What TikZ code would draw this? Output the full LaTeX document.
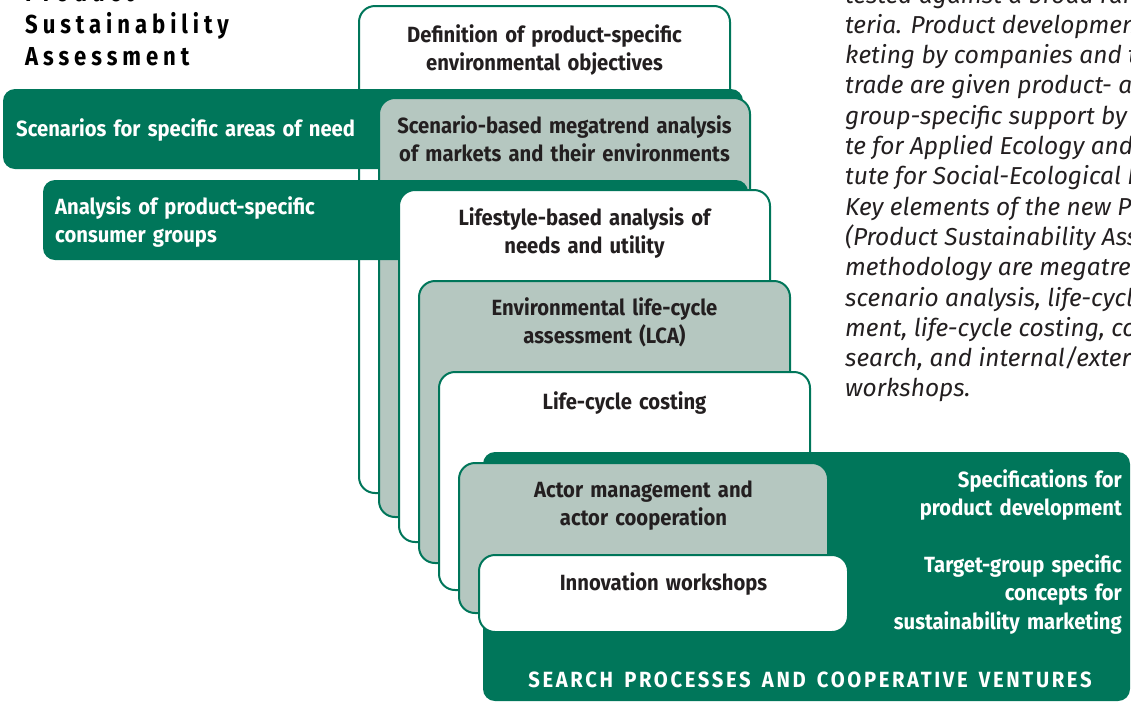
\documentclass[tikz,border=0pt]{standalone}
\usepackage{fontspec}
\setmainfont{Fira Sans}
\newfontfamily\labfont[FakeStretch=0.92,WordSpace=1.5]{Fira Sans}
\newfontfamily\capfont[FakeStretch=0.92,LetterSpace=12,WordSpace=1.5]{Fira Sans}
\newfontfamily\titlefont[FakeStretch=0.85,LetterSpace=19]{Fira Sans}
\newfontfamily\bodyfont[FakeStretch=1.0]{Fira Sans}
\definecolor{pgreen}{HTML}{00765A}
\definecolor{pgrey}{HTML}{B5C7C0}
\definecolor{ptext}{HTML}{231F20}
\tikzset{
  cardw/.style={draw=pgreen, line width=2pt, fill=white, rounded corners=16pt, anchor=north west, inner sep=0pt, outer sep=0pt},
  cardg/.style={cardw, fill=pgrey},
  bar/.style={fill=pgreen, rounded corners=12pt, anchor=north west, inner sep=0pt, outer sep=0pt},
  ctext/.style={anchor=north, inner sep=0pt, align=center, text=ptext, font=\labfont\bfseries\fontsize{22}{28}\selectfont},
  wtext/.style={inner sep=0pt, text=white, font=\labfont\bfseries\fontsize{22}{28.5}\selectfont},
  ttext/.style={anchor=base west, inner sep=0pt, text=black, font=\titlefont\bfseries\fontsize{26}{32}\selectfont},
  itx/.style={anchor=base west, inner sep=0pt, text=ptext, font=\bodyfont\itshape\fontsize{24.5}{30}\selectfont},
}
\begin{document}
\begin{tikzpicture}[x=1pt,y=-1pt]
\useasboundingbox (0,0) rectangle (1131,702);
\begin{scope}
\clip (0,0) rectangle (1131,702);
% title
\node[ttext] (ti0) at (25,1) {Product};
\node[ttext] (ti1) at (25,33) {Sustainability};
\node[ttext] (ti2) at (25,65) {Assessment};
% right text
\foreach \t [count=\i from 0] in {
  {tested against a broad range of cri-},
  {teria. Product development and mar-},
  {keting by companies and the},
  {trade are given product- and target-},
  {group-specific support by the Institu-},
  {te for Applied Ecology and the Insti-},
  {tute for Social-Ecological Research.},
  {Key elements of the new PROSA},
  {(Product Sustainability Assessment)},
  {methodology are megatrend and},
  {scenario analysis, life-cycle assess-},
  {ment, life-cycle costing, consumer re-},
  {search, and internal/external},
  {workshops.}}
  \node[itx] (r\i) at (845,{3+30.3*\i}) {\t};
% cards and bars
\node[cardw, minimum width=371pt, minimum height=487pt] (c1) at (359,6) {};
\node[bar, minimum width=740pt, minimum height=80pt] (b1) at (3,89) {};
\node[cardg, minimum width=371pt, minimum height=419pt] (c2) at (379,98) {};
\node[bar, minimum width=705pt, minimum height=80pt] (b2) at (43,180) {};
\node[cardw, minimum width=371pt, minimum height=352pt] (c3) at (399,190) {};
\node[cardg, minimum width=371pt, minimum height=282pt] (c4) at (419,281) {};
\node[cardw, minimum width=371pt, minimum height=218pt] (c5) at (439,372) {};
\node[bar, minimum width=647pt, minimum height=249pt] (b3) at (483,452) {};
\node[cardg, minimum width=369pt, minimum height=150pt] (c6) at (459,463) {};
\node[cardw, minimum width=369pt, minimum height=77pt] (c7) at (479,555) {};
% card texts
\node[ctext] (t1) at (544.5,24) {Definition of product-specific\\environmental objectives};
\node[ctext] (t2) at (564.5,115) {Scenario-based megatrend analysis\\of markets and their environments};
\node[ctext] (t3) at (584.5,207) {Lifestyle-based analysis of\\needs and utility};
\node[ctext] (t4) at (604.5,297) {Environmental life-cycle\\assessment (LCA)};
\node[ctext] (t5) at (624.5,391) {Life-cycle costing};
\node[ctext] (t6) at (643.5,481) {Actor management and\\actor cooperation};
\node[ctext] (t7) at (663.5,572) {Innovation workshops};
% bar texts
\node[wtext, anchor=north west] (bt1) at (16,118) {Scenarios for specific areas of need};
\node[wtext, anchor=north west, align=left] (bt2) at (55,196) {Analysis of product-specific\\consumer groups};
\node[wtext, anchor=north east, align=right] (bt3) at (1122,469) {Specifications for\hspace{6pt}\\product development};
\node[wtext, anchor=north east, align=right] (bt4) at (1122,554) {Target-group specific\\concepts for\\sustainability marketing};
\node[wtext, anchor=base, font=\capfont\bfseries\fontsize{22}{28}\selectfont] (bt5) at (810,687) {SEARCH PROCESSES AND COOPERATIVE VENTURES};
\end{scope}
\end{tikzpicture}
\end{document}
